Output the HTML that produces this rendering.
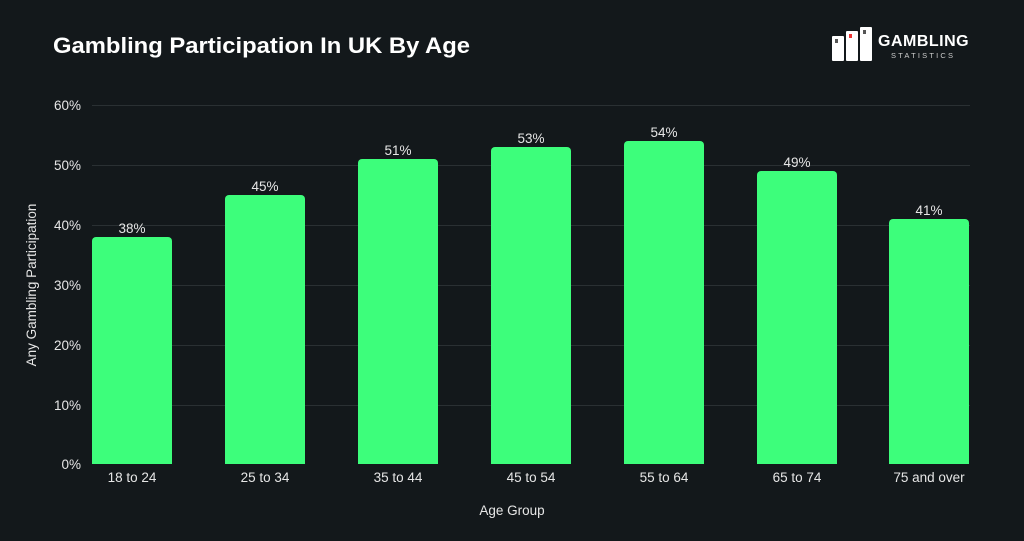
<!DOCTYPE html>
<html><head><style>
body{margin:0;width:1024px;height:536px;background:#13181b;overflow:hidden;font-family:"Liberation Sans",sans-serif}
</style></head><body>
<svg width="1024" height="536" xmlns="http://www.w3.org/2000/svg" font-family="Liberation Sans, sans-serif">
<rect width="1024" height="536" fill="#13181b"/>
<text x="53" y="53" fill="#fff" font-size="22" font-weight="bold" textLength="417" lengthAdjust="spacingAndGlyphs">Gambling Participation In UK By Age</text>
<!-- logo -->
<rect x="832" y="36" width="12" height="25" fill="#fff" rx="1"/>
<rect x="846" y="31" width="12" height="30" fill="#fff" rx="1"/>
<rect x="860" y="27" width="12" height="34" fill="#fff" rx="1"/>
<rect x="835" y="39" width="3" height="4" fill="#555"/>
<rect x="849" y="34" width="3" height="4" fill="#e33"/>
<rect x="863" y="30" width="3" height="4" fill="#555"/>
<text x="878" y="46" fill="#fff" font-size="16" font-weight="bold" letter-spacing="0.5">GAMBLING</text>
<text x="891" y="58" fill="#ccc" font-size="7.5" letter-spacing="2.2">STATISTICS</text>
<g stroke="#2a3033" stroke-width="1">
<line x1="92" x2="970" y1="105.5" y2="105.5"/>
<line x1="92" x2="970" y1="165.5" y2="165.5"/>
<line x1="92" x2="970" y1="225.5" y2="225.5"/>
<line x1="92" x2="970" y1="285.5" y2="285.5"/>
<line x1="92" x2="970" y1="345.5" y2="345.5"/>
<line x1="92" x2="970" y1="405.5" y2="405.5"/>
</g>
<g fill="#e6e6e6" font-size="13.5" text-anchor="end">
<text x="81" y="110">60%</text><text x="81" y="170">50%</text><text x="81" y="230">40%</text>
<text x="81" y="290">30%</text><text x="81" y="350">20%</text><text x="81" y="410">10%</text><text x="81" y="469">0%</text>
</g>
<text transform="translate(36,285) rotate(-90)" fill="#e6e6e6" font-size="13.5" text-anchor="middle">Any Gambling Participation</text>
<g fill="#3dfe7b">
<path d="M92 464V241a4 4 0 0 1 4-4h72a4 4 0 0 1 4 4V464Z"/>
<path d="M225 464V199a4 4 0 0 1 4-4h72a4 4 0 0 1 4 4V464Z"/>
<path d="M358 464V163a4 4 0 0 1 4-4h72a4 4 0 0 1 4 4V464Z"/>
<path d="M491 464V151a4 4 0 0 1 4-4h72a4 4 0 0 1 4 4V464Z"/>
<path d="M624 464V145a4 4 0 0 1 4-4h72a4 4 0 0 1 4 4V464Z"/>
<path d="M757 464V175a4 4 0 0 1 4-4h72a4 4 0 0 1 4 4V464Z"/>
<path d="M889 464V223a4 4 0 0 1 4-4h72a4 4 0 0 1 4 4V464Z"/>
</g>
<g fill="#e6e6e6" font-size="13.5" text-anchor="middle">
<text x="132" y="233">38%</text><text x="265" y="191">45%</text><text x="398" y="155">51%</text>
<text x="531" y="143">53%</text><text x="664" y="137">54%</text><text x="797" y="167">49%</text><text x="929" y="215">41%</text>
<text x="132" y="482">18 to 24</text><text x="265" y="482">25 to 34</text><text x="398" y="482">35 to 44</text>
<text x="531" y="482">45 to 54</text><text x="664" y="482">55 to 64</text><text x="797" y="482">65 to 74</text><text x="929" y="482">75 and over</text>
<text x="512" y="515">Age Group</text>
</g>
</svg>
</body></html>
